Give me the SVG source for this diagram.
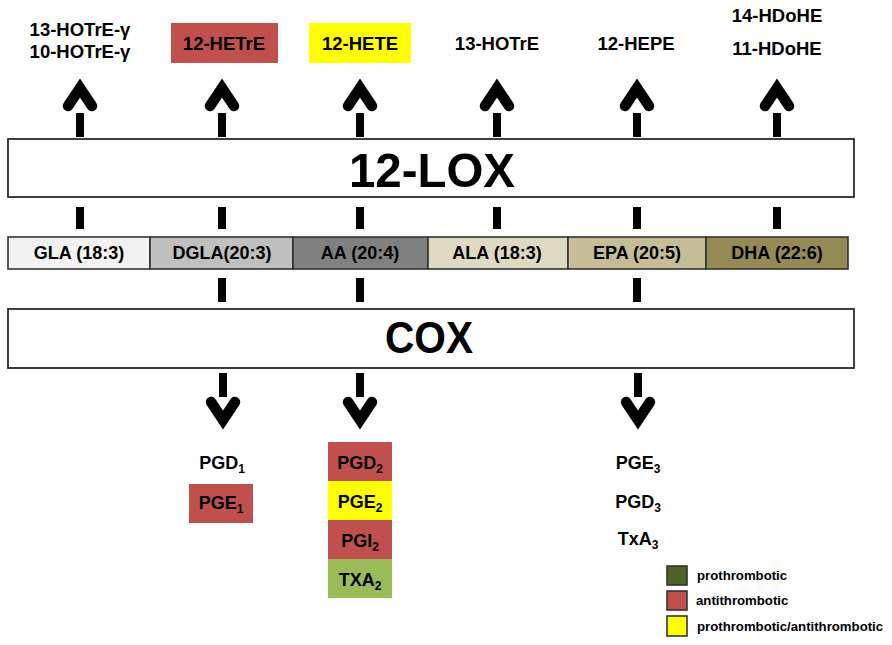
<svg xmlns="http://www.w3.org/2000/svg" width="892" height="645" viewBox="0 0 892 645">
<style>
text{font-family:"Liberation Sans",Arial,sans-serif;font-weight:bold;fill:#000}
.t{font-size:18.5px;text-anchor:middle}
.b{font-size:18px;text-anchor:middle}
.p{font-size:18px;text-anchor:middle}
.s{font-size:12px}
.lg{font-size:13.2px}
.box{stroke:#333;stroke-width:1.6}
.big{stroke:#2b2b2b;stroke-width:1.8;fill:#fff}
.head{fill:none;stroke:#000;stroke-width:10.5;stroke-linecap:round;stroke-linejoin:miter;stroke-miterlimit:10}
</style>
<defs>
<g id="up"><path class="head" d="M-12,106 L0,88 L12,106"/><rect x="-4" y="113" width="8" height="24"/></g>
<g id="down"><rect x="-4" y="373" width="8" height="24"/><path class="head" d="M-12,402 L0,420 L12,402"/></g>
<rect id="dashA" x="-4" y="207" width="8" height="22"/>
<rect id="dashB" x="-4" y="278" width="8" height="24"/>
</defs>

<g id="connectors">
<use href="#up" x="80"/><use href="#up" x="222"/><use href="#up" x="360"/><use href="#up" x="497"/><use href="#up" x="637"/><use href="#up" x="777"/>
<use href="#dashA" x="80"/><use href="#dashA" x="222"/><use href="#dashA" x="360"/><use href="#dashA" x="497"/><use href="#dashA" x="637"/><use href="#dashA" x="777"/>
<use href="#dashB" x="222"/><use href="#dashB" x="360"/><use href="#dashB" x="637"/>
<use href="#down" x="223"/><use href="#down" x="360"/><use href="#down" x="638"/>
</g>

<g id="lox"><rect class="big" x="8" y="139" width="846" height="58"/><text x="432" y="187" font-size="49" text-anchor="middle" textLength="166" lengthAdjust="spacingAndGlyphs">12-LOX</text></g>
<g id="cox"><rect class="big" x="8" y="309" width="846" height="59"/><text x="429" y="353" font-size="44" text-anchor="middle" textLength="88" lengthAdjust="spacingAndGlyphs">COX</text></g>

<g id="bar">
<g id="gla"><rect class="box" x="8" y="237" width="142" height="32" fill="#F2F2F2"/><text class="b" x="79" y="259">GLA (18:3)</text></g>
<g id="dgla"><rect class="box" x="150" y="237" width="143" height="32" fill="#BFBFBF"/><text class="b" x="222" y="259">DGLA(20:3)</text></g>
<g id="aa"><rect class="box" x="293" y="237" width="135" height="32" fill="#808080"/><text class="b" x="360" y="259">AA (20:4)</text></g>
<g id="ala"><rect class="box" x="428" y="237" width="140" height="32" fill="#DDD9C3"/><text class="b" x="497" y="259">ALA (18:3)</text></g>
<g id="epa"><rect class="box" x="568" y="237" width="138" height="32" fill="#C4BD97"/><text class="b" x="637" y="259">EPA (20:5)</text></g>
<g id="dha"><rect class="box" x="706" y="237" width="142" height="32" fill="#948A54"/><text class="b" x="777" y="259">DHA (22:6)</text></g>
</g>

<g id="hotre-g"><text class="t" x="80" y="36">13-HOTrE-γ</text><text class="t" x="80" y="58">10-HOTrE-γ</text></g>
<g id="hetre"><rect x="171" y="23" width="107" height="40" fill="#C0504D"/><text class="t" x="224" y="50">12-HETrE</text></g>
<g id="hete"><rect x="309" y="23" width="102" height="40" fill="#FFFF00"/><text class="t" x="360" y="50">12-HETE</text></g>
<g id="hotre"><text class="t" x="497" y="50">13-HOTrE</text></g>
<g id="hepe"><text class="t" x="636" y="50">12-HEPE</text></g>
<g id="hdohe"><text class="t" x="777" y="22">14-HDoHE</text><text class="t" x="777" y="55">11-HDoHE</text></g>

<g id="pgd1"><text class="p" x="222" y="469">PGD<tspan class="s" dy="4">1</tspan></text></g>
<g id="pge1"><rect x="189" y="484" width="64" height="39" fill="#C0504D"/><text class="p" x="221" y="509">PGE<tspan class="s" dy="4">1</tspan></text></g>
<g id="pgd2"><rect x="328" y="442" width="64" height="39" fill="#C0504D"/><text class="p" x="360" y="469">PGD<tspan class="s" dy="4">2</tspan></text></g>
<g id="pge2"><rect x="328" y="481" width="64" height="39" fill="#FFFF00"/><text class="p" x="360" y="508">PGE<tspan class="s" dy="4">2</tspan></text></g>
<g id="pgi2"><rect x="328" y="520" width="64" height="39" fill="#C0504D"/><text class="p" x="360" y="547">PGI<tspan class="s" dy="4">2</tspan></text></g>
<g id="txa2"><rect x="328" y="559" width="64" height="39" fill="#9BBB59"/><text class="p" x="360" y="586">TXA<tspan class="s" dy="4">2</tspan></text></g>

<g id="pge3"><text class="p" x="638" y="469">PGE<tspan class="s" dy="4">3</tspan></text></g>
<g id="pgd3"><text class="p" x="638" y="508">PGD<tspan class="s" dy="4">3</tspan></text></g>
<g id="txa3"><text class="p" x="638" y="545">TxA<tspan class="s" dy="4">3</tspan></text></g>

<g id="legend">
<rect class="box" x="667" y="566" width="20" height="19" fill="#4F6228"/><text class="lg" x="697" y="580">prothrombotic</text>
<rect class="box" x="667" y="591" width="20" height="19" fill="#C0504D"/><text class="lg" x="696" y="605">antithrombotic</text>
<rect class="box" x="667" y="616" width="20" height="20" fill="#FFFF00"/><text class="lg" x="697" y="631">prothrombotic/antithrombotic</text>
</g>
</svg>
